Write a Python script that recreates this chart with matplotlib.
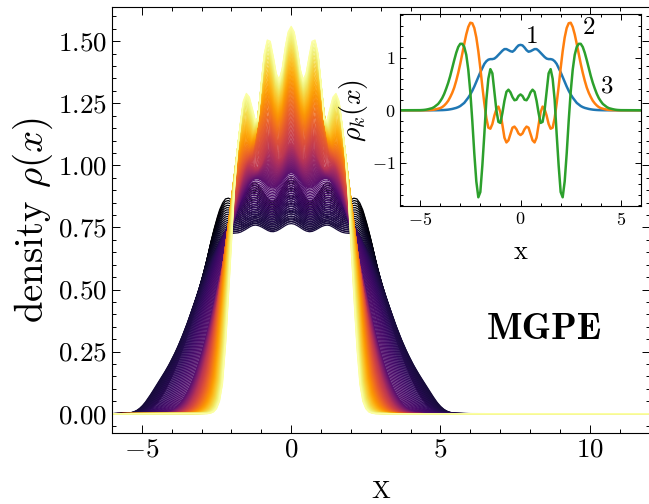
import numpy as np
import matplotlib.pyplot as plt
from matplotlib.ticker import MultipleLocator

plt.rcParams['font.family'] = ['cmr10', 'DejaVu Serif']
plt.rcParams['mathtext.fontset'] = 'cm'
plt.rcParams['axes.formatter.use_mathtext'] = True
plt.rcParams['axes.linewidth'] = 0.8

# half profiles of the main density curves, sampled at x = 0, 0.1, ..., 5.5
x_half = np.linspace(0, 5.5, 56)
rho_black = [0.950, 0.945, 0.930, 0.910, 0.885, 0.865, 0.855, 0.857, 0.868, 0.885,
             0.905, 0.922, 0.930, 0.928, 0.915, 0.898, 0.880, 0.865, 0.855, 0.855,
             0.862, 0.868, 0.865, 0.848, 0.820, 0.780, 0.735, 0.685, 0.625, 0.565,
             0.512, 0.470, 0.425, 0.385, 0.345, 0.308, 0.272, 0.240, 0.208, 0.178,
             0.150, 0.123, 0.098, 0.077, 0.058, 0.042, 0.030, 0.020, 0.012, 0.007,
             0.004, 0.002, 0.001, 0.0, 0.0, 0.0]
rho_indigo = [0.765, 0.763, 0.757, 0.749, 0.741, 0.735, 0.732, 0.733, 0.738, 0.745,
              0.752, 0.757, 0.759, 0.757, 0.751, 0.743, 0.736, 0.730, 0.727, 0.726,
              0.725, 0.722, 0.715, 0.703, 0.687, 0.667, 0.643, 0.616, 0.587, 0.557,
              0.525, 0.493, 0.460, 0.426, 0.392, 0.358, 0.327, 0.297, 0.269, 0.243,
              0.219, 0.196, 0.175, 0.155, 0.136, 0.117, 0.098, 0.079, 0.061, 0.044,
              0.030, 0.019, 0.011, 0.006, 0.003, 0.001]
rho_purple = [0.970, 0.966, 0.955, 0.940, 0.925, 0.913, 0.908, 0.910, 0.918, 0.930,
              0.940, 0.946, 0.947, 0.942, 0.930, 0.912, 0.888, 0.860, 0.826, 0.788,
              0.745, 0.698, 0.648, 0.596, 0.542, 0.488, 0.434, 0.381, 0.330, 0.282,
              0.238, 0.198, 0.162, 0.130, 0.102, 0.078, 0.058, 0.042, 0.029, 0.019,
              0.012, 0.007, 0.004, 0.002, 0.001, 0.0, 0.0, 0.0, 0.0, 0.0,
              0.0, 0.0, 0.0, 0.0, 0.0, 0.0]
rho_orange = [1.090, 1.082, 1.060, 1.035, 1.022, 1.030, 1.052, 1.068, 1.062, 1.038,
              1.008, 0.990, 0.988, 0.996, 1.000, 0.993, 0.970, 0.935, 0.890, 0.838,
              0.780, 0.718, 0.650, 0.578, 0.503, 0.430, 0.362, 0.298, 0.240, 0.188,
              0.143, 0.106, 0.076, 0.052, 0.034, 0.021, 0.012, 0.006, 0.003, 0.001,
              0.0, 0.0, 0.0, 0.0, 0.0, 0.0, 0.0, 0.0, 0.0, 0.0,
              0.0, 0.0, 0.0, 0.0, 0.0, 0.0]
rho_yellow = [1.560, 1.538, 1.475, 1.390, 1.345, 1.370, 1.440, 1.500, 1.505, 1.450,
              1.330, 1.190, 1.180, 1.230, 1.275, 1.290, 1.260, 1.170, 1.060, 0.900,
              0.690, 0.470, 0.270, 0.120, 0.050, 0.020, 0.007, 0.002, 0.0, 0.0,
              0.0, 0.0, 0.0, 0.0, 0.0, 0.0, 0.0, 0.0, 0.0, 0.0,
              0.0, 0.0, 0.0, 0.0, 0.0, 0.0, 0.0, 0.0, 0.0, 0.0,
              0.0, 0.0, 0.0, 0.0, 0.0, 0.0]
key_profiles = [rho_black, rho_indigo, rho_purple, rho_orange, rho_yellow]
key_t = [0.0, 0.10, 0.25, 0.50, 1.0]
n_curves = 180

# inset orbitals, sampled at x = 0, 0.1, ..., 5.0 (symmetric)
xk_half = np.linspace(0, 5.0, 51)
rho_1 = [1.24, 1.23, 1.19, 1.14, 1.11, 1.12, 1.14, 1.16, 1.16, 1.13,
         1.09, 1.05, 1.01, 0.98, 0.97, 0.97, 0.96, 0.93, 0.88, 0.80,
         0.72, 0.63, 0.54, 0.45, 0.37, 0.30, 0.24, 0.19, 0.14, 0.11,
         0.08, 0.06, 0.045, 0.035, 0.025, 0.018, 0.012, 0.008, 0.005, 0.003,
         0.002, 0.001, 0, 0, 0, 0, 0, 0, 0, 0, 0]
rho_2 = [-0.47, -0.44, -0.36, -0.31, -0.33, -0.45, -0.57, -0.61, -0.52, -0.28,
         -0.04, 0.07, 0.02, -0.10, -0.26, -0.35, -0.33, -0.15, 0.13, 0.45,
         0.80, 1.12, 1.38, 1.56, 1.65, 1.66, 1.58, 1.44, 1.26, 1.07,
         0.88, 0.71, 0.56, 0.43, 0.33, 0.25, 0.18, 0.13, 0.09, 0.06,
         0.04, 0.03, 0.02, 0.012, 0.007, 0.004, 0.002, 0.001, 0, 0, 0]
rho_3 = [0.30, 0.27, 0.20, 0.19, 0.25, 0.34, 0.39, 0.35, 0.18, -0.05,
         -0.24, -0.22, 0.00, 0.35, 0.70, 0.78, 0.60, 0.20, -0.45, -1.05,
         -1.55, -1.65, -1.35, -0.82, -0.20, 0.35, 0.77, 1.05, 1.20, 1.26,
         1.26, 1.20, 1.09, 0.95, 0.80, 0.65, 0.52, 0.41, 0.31, 0.23,
         0.17, 0.12, 0.09, 0.06, 0.04, 0.03, 0.02, 0.012, 0.007, 0.004, 0.002]
inset_colors = ['#1f77b4', '#ff7f0e', '#2ca02c']
inset_labels = ['1', '2', '3']
label_pos = [(0.58, 1.40), (3.42, 1.56), (4.3, 0.46)]


def edge_width(prof):
    prof = np.asarray(prof)
    level = 0.3 * prof[0]
    i = np.argmax(prof < level)
    return np.interp(level, [prof[i], prof[i - 1]], [x_half[i], x_half[i - 1]])


def mirror(xh, yh):
    yh = np.asarray(yh)
    return np.concatenate([-xh[::-1], xh[1:]]), np.concatenate([yh[::-1], yh[1:]])


key_w = [edge_width(p) for p in key_profiles]
x_plot = np.linspace(-6, 12, 1801)
ax_abs = np.abs(x_plot)

fig = plt.figure(figsize=(6.49, 5.04), dpi=100)
ax = fig.add_axes([112 / 649, 71 / 504, 537.5 / 649, 426 / 504])

cmap = plt.cm.inferno
for t in np.linspace(0, 1, n_curves):
    k = min(np.searchsorted(key_t, t, side='right') - 1, len(key_t) - 2)
    f = (t - key_t[k]) / (key_t[k + 1] - key_t[k])
    w = (1 - f) * key_w[k] + f * key_w[k + 1]
    u = ax_abs / w
    rho = ((1 - f) * np.interp(u * key_w[k], x_half, key_profiles[k], right=0)
           + f * np.interp(u * key_w[k + 1], x_half, key_profiles[k + 1], right=0))
    ax.plot(x_plot, rho, color=cmap(t), lw=0.9)

ax.set_xlim(-6, 12)
ax.xaxis.set_major_locator(MultipleLocator(5))
ax.xaxis.set_minor_locator(MultipleLocator(1))
ax.yaxis.set_major_locator(MultipleLocator(0.25))
ax.yaxis.set_minor_locator(MultipleLocator(0.05))
ax.tick_params(which='both', direction='in', top=True, right=True, width=0.7,
               labelsize=19.5)
ax.tick_params(which='major', length=5.5)
ax.tick_params(which='minor', length=3)
ax.set_xlabel('X', fontsize=18, labelpad=14)
ax.set_ylabel(r'density $\rho(x)$', fontsize=28, labelpad=2)
ax.text(8.48, 0.34, 'MGPE', family='cmb10', fontsize=27, ha='center', va='center')

# inset with the single-particle terms
axin = fig.add_axes([400 / 649, 298 / 504, 241 / 649, 192 / 504])
for vals, c, lab, (lx, ly) in zip([rho_1, rho_2, rho_3], inset_colors,
                                  inset_labels, label_pos):
    xs, ys = mirror(xk_half, vals)
    xs = np.concatenate([[-6], xs, [6]])
    ys = np.concatenate([[0], ys, [0]])
    axin.plot(xs, ys, color=c, lw=1.8)
    axin.text(lx, ly, lab, fontsize=18, ha='center', va='center')

axin.set_xlim(-6, 6)
axin.xaxis.set_major_locator(MultipleLocator(5))
axin.xaxis.set_minor_locator(MultipleLocator(1))
axin.yaxis.set_major_locator(MultipleLocator(1))
axin.yaxis.set_minor_locator(MultipleLocator(0.2))
axin.tick_params(which='both', direction='in', top=True, right=True, width=0.7,
                 labelsize=13)
axin.tick_params(which='major', length=4)
axin.tick_params(which='minor', length=2.3)
axin.set_xlabel('x', fontsize=19, labelpad=9)
axin.set_ylabel(r'$\rho_k(x)$', fontsize=20, labelpad=1.5)

fig.savefig('out.png', dpi=100)
